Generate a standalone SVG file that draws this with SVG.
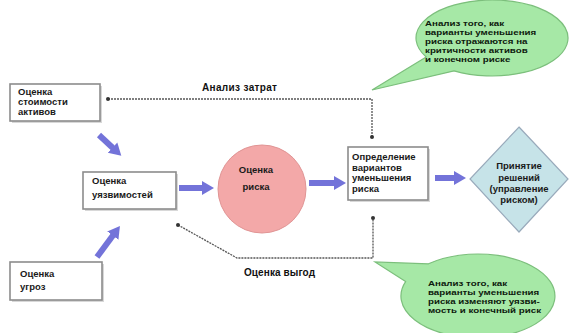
<svg xmlns="http://www.w3.org/2000/svg" width="569" height="333" viewBox="0 0 569 333">
<defs>
<style>
.box{fill:#fff;stroke:#8c8c8c;stroke-width:1.6}
.shadow{fill:#d8d8d8}
.t{font-family:"Liberation Sans",Arial,sans-serif;font-size:9.5px;font-weight:bold;fill:#1a1a1a}
.b{font-family:"Liberation Sans",Arial,sans-serif;font-size:10px;font-weight:bold;fill:#111}
.cb{font-family:"Liberation Sans",Arial,sans-serif;font-size:8px;font-weight:bold;fill:#0d1a0d}
.thick{stroke:#7373d9;stroke-width:6;fill:none}
.thin{stroke:#555;stroke-width:1.3;fill:none;stroke-dasharray:2 1}
.callout{fill:#a6e8a6;stroke:#7cbf7c;stroke-width:1.2}
</style>
<marker id="head" markerUnits="userSpaceOnUse" markerWidth="14" markerHeight="16" refX="2" refY="8" orient="auto">
<path d="M0,1 L12,8 L0,15 Z" fill="#7373d9"/>
</marker>
<marker id="dot" markerUnits="userSpaceOnUse" markerWidth="6" markerHeight="6" refX="3" refY="3">
<circle cx="3" cy="3" r="2" fill="#333"/>
</marker>
</defs>
<rect width="569" height="333" fill="#fff"/>

<g id="connectors">
<polyline class="thin" points="108,99 372,99 372,137" marker-start="url(#dot)" marker-end="url(#dot)"/>
<polyline class="thin" points="178,225 237,258 373,258 373,218" marker-start="url(#dot)" marker-end="url(#dot)"/>
<line class="thick" x1="99" y1="135" x2="114" y2="149" marker-end="url(#head)"/>
<line class="thick" x1="97" y1="257" x2="114" y2="234" marker-end="url(#head)"/>
<line class="thick" x1="179" y1="188" x2="204" y2="188" marker-end="url(#head)"/>
<line class="thick" x1="309" y1="183" x2="336" y2="183" marker-end="url(#head)"/>
<line class="thick" x1="435" y1="178" x2="456" y2="178" marker-end="url(#head)"/>
<text class="b" x="202" y="91" textLength="75">Анализ затрат</text>
<text class="b" x="244" y="276" textLength="71">Оценка выгод</text>
</g>

<g id="asset-value">
<rect class="shadow" x="12" y="86" width="90" height="37"/>
<rect class="box" x="10" y="84" width="90" height="37"/>
<text class="t"><tspan x="18" y="95">Оценка</tspan><tspan x="18" y="105">стоимости</tspan><tspan x="18" y="115">активов</tspan></text>
</g>

<g id="vulnerability">
<rect class="shadow" x="85" y="174" width="93" height="37"/>
<rect class="box" x="83" y="172" width="93" height="37"/>
<text class="t"><tspan x="92" y="184">Оценка</tspan><tspan x="92" y="198">уязвимостей</tspan></text>
</g>

<g id="threats">
<rect class="shadow" x="12" y="264" width="92" height="38"/>
<rect class="box" x="10" y="262" width="92" height="38"/>
<text class="t"><tspan x="20" y="277">Оценка</tspan><tspan x="20" y="290">угроз</tspan></text>
</g>

<g id="risk">
<circle cx="262" cy="189" r="44" fill="#f3a8a8" stroke="#e09494" stroke-width="1"/>
<text class="t" text-anchor="middle"><tspan x="256" y="173">Оценка</tspan><tspan x="256" y="190">риска</tspan></text>
</g>

<g id="options">
<rect class="shadow" x="350" y="149" width="80" height="53"/>
<rect class="box" x="348" y="147" width="80" height="53"/>
<text class="t"><tspan x="352" y="160">Определение</tspan><tspan x="352" y="170.5">вариантов</tspan><tspan x="352" y="181">уменьшения</tspan><tspan x="352" y="192">риска</tspan></text>
</g>

<g id="decision">
<polygon points="519,127 568,179 519,232 470,179" fill="#c6e3e8" stroke="#9ab" stroke-width="1.2"/>
<text class="t" text-anchor="middle"><tspan x="519" y="169">Принятие</tspan><tspan x="519" y="181">решений</tspan><tspan x="519" y="192">(управление</tspan><tspan x="519" y="203">риском)</tspan></text>
</g>

<g id="callout-top">
<path class="callout" d="M426.2,57 L372,90 L454,70.9 A76,38 0 1 0 426.2,57 Z"/>
<text class="cb" transform="translate(425,0) scale(1.22,1)"><tspan x="0" y="26">Анализ того, как</tspan><tspan x="0" y="35">варианты уменьшения</tspan><tspan x="0" y="44">риска отражаются на</tspan><tspan x="0" y="53">критичности активов</tspan><tspan x="0" y="62">и конечном риске</tspan></text>
</g>

<g id="callout-bottom">
<path class="callout" d="M405.6,281.6 L375,262 L428.5,263.8 A77,42 0 1 1 405.6,281.6 Z"/>
<text class="cb" transform="translate(428,0) scale(1.22,1)"><tspan x="0" y="286">Анализ того, как</tspan><tspan x="0" y="295">варианты уменьшения</tspan><tspan x="0" y="304">риска изменяют уязви-</tspan><tspan x="0" y="313">мость и конечный риск</tspan></text>
</g>
</svg>
